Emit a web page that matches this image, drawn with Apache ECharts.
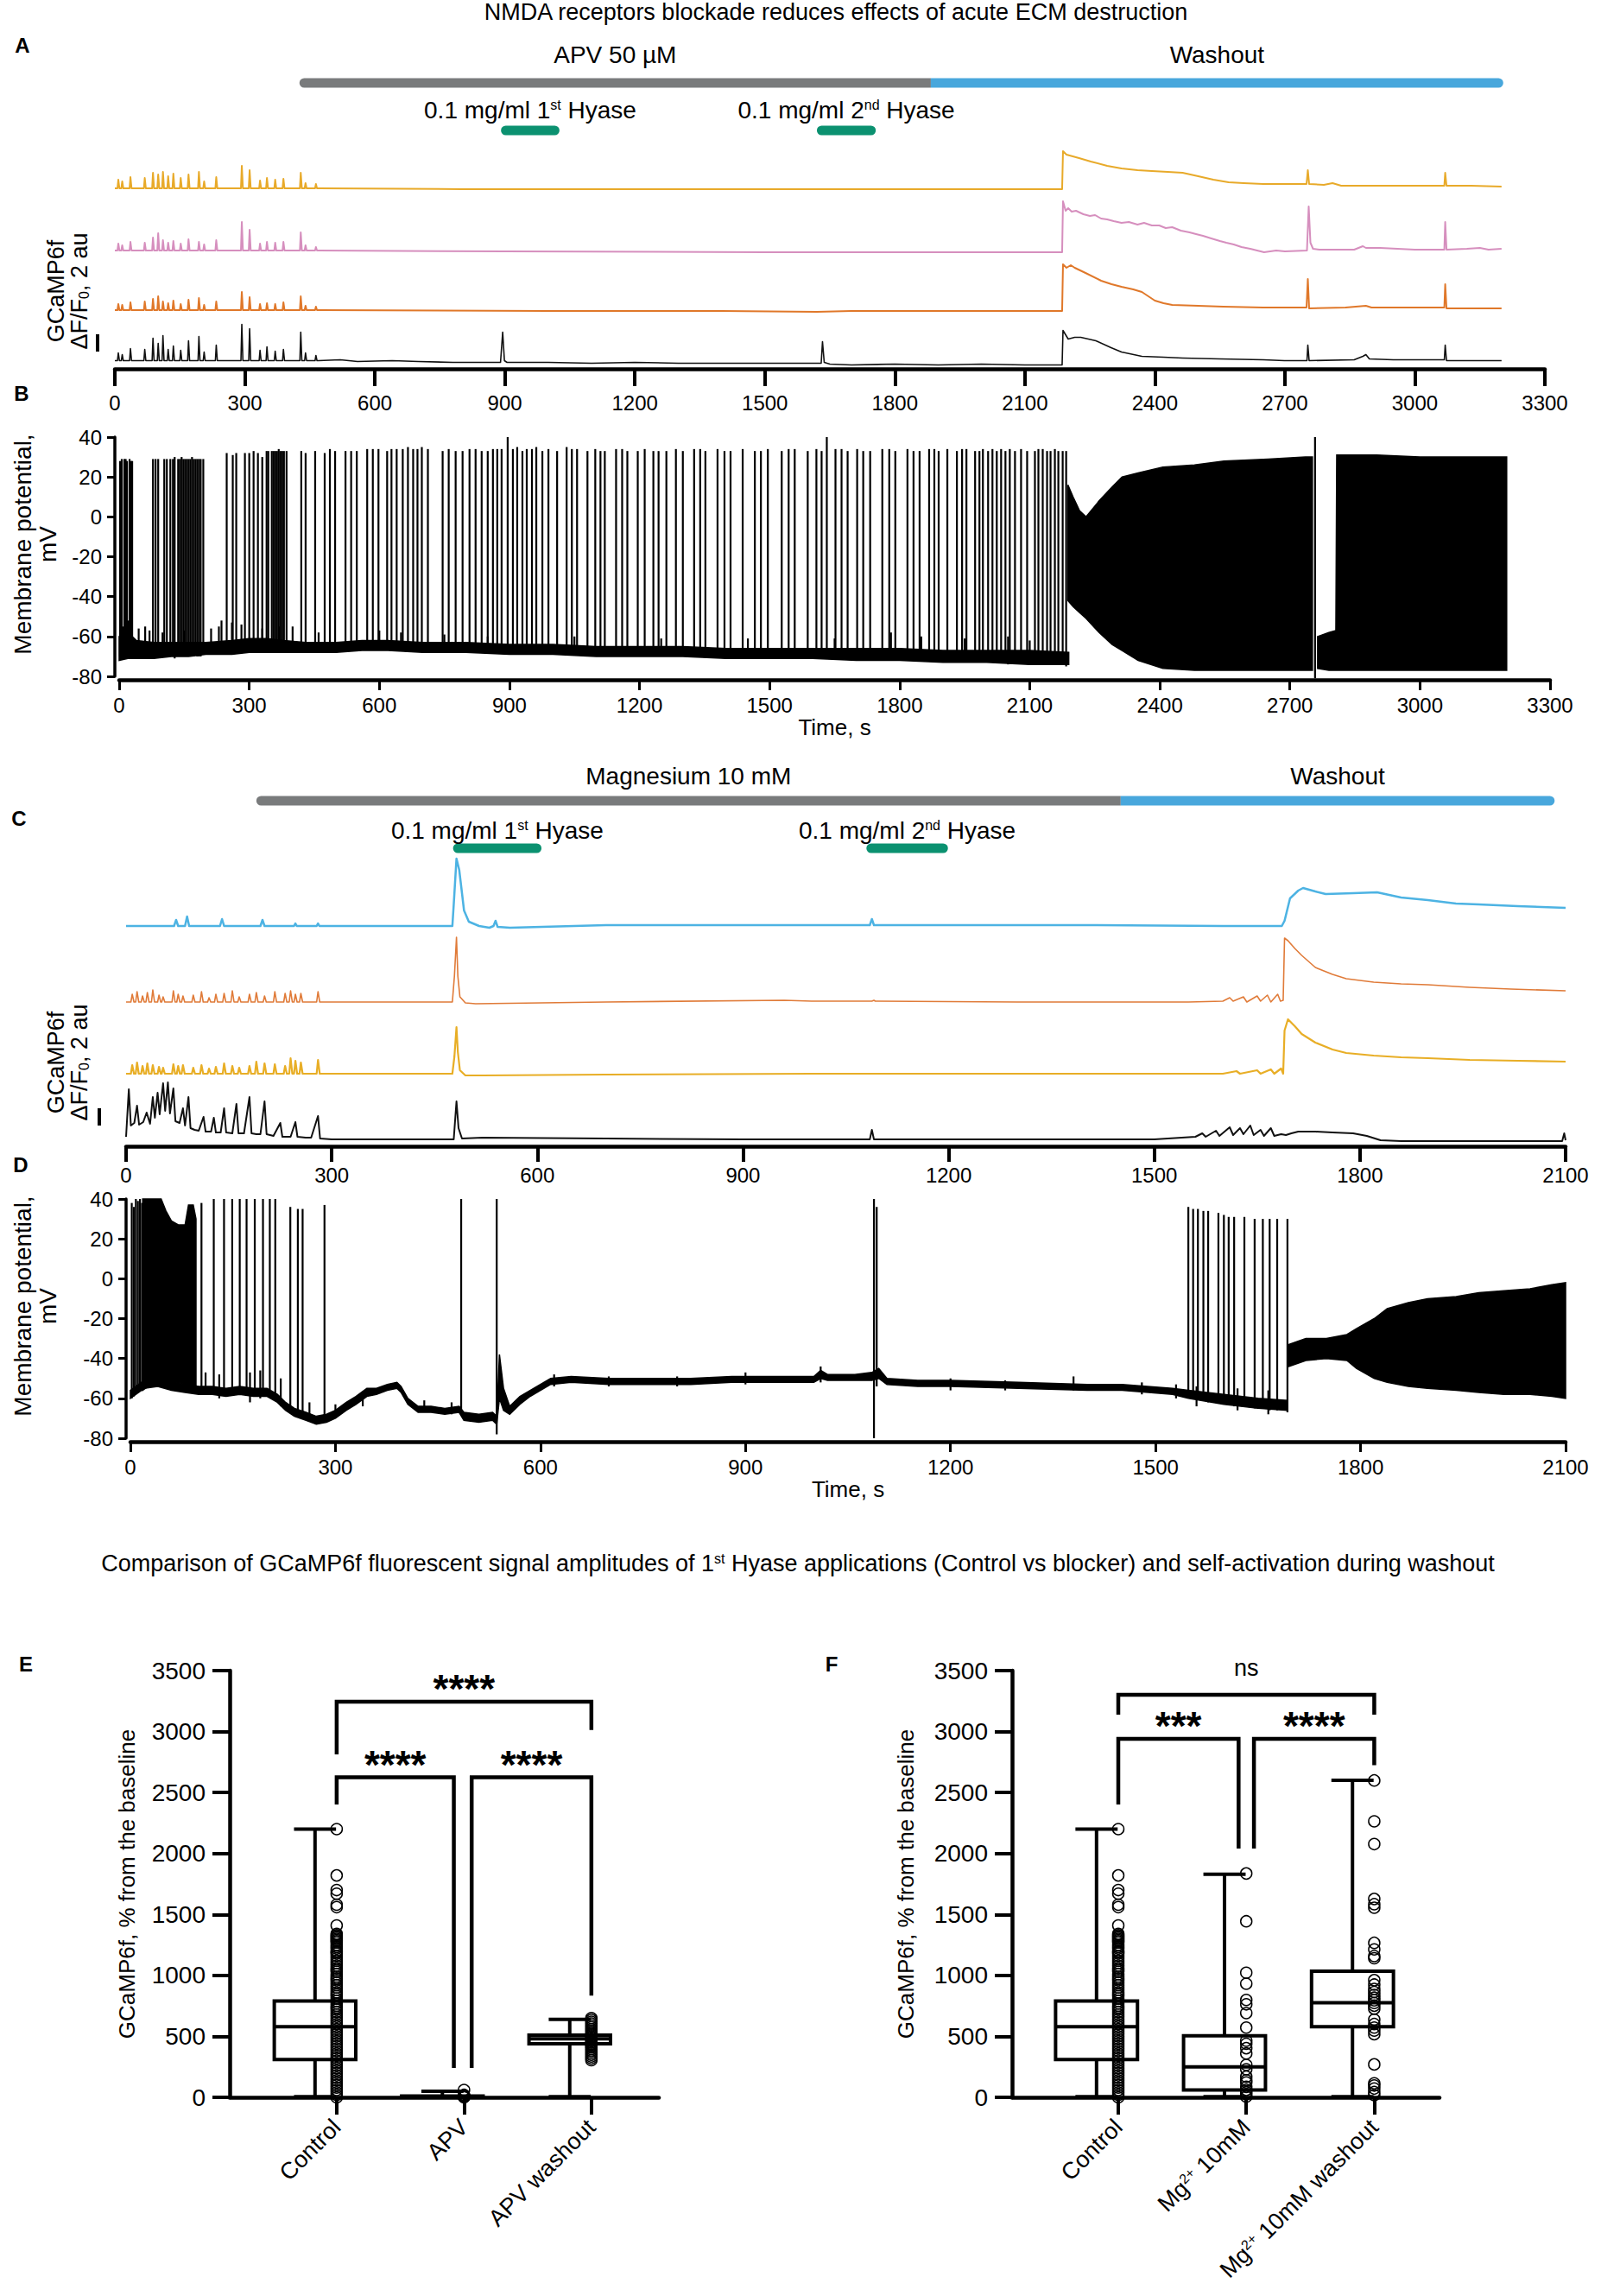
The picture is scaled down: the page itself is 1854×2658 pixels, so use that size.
<!DOCTYPE html>
<html>
<head>
<meta charset="UTF-8">
<title>NMDA receptors blockade reduces effects of acute ECM destruction</title>
<script src="https://cdn.jsdelivr.net/npm/echarts@6.0.0/dist/echarts.min.js"></script>
<style>
body { margin: 0; background: #fff; }
#main { width: 1854px; height: 2658px; }
</style>
</head>
<body>
<div id="main"></div>
<script>
// ---------- panel A : GCaMP6f traces, APV (au, relative to each trace baseline) ----------
var aPhaseStart = [426, 1883];
var aPhaseEnd = [1883, 3204];
var aPhaseName = ['APV 50 µM', 'Washout'];
var aHyaseStart = [891, 1620];
var aHyaseEnd = [1026, 1756];
var aHyaseName = ['0.1 mg/ml 1{sup|st} Hyase', '0.1 mg/ml 2{sup|nd} Hyase'];

var aEarlyT = [8, 17, 36, 69, 88, 100, 111, 123, 135, 152, 170, 194, 206, 234, 293, 311, 335, 351, 370, 389, 429, 440, 464];
var aYellowAmp = [1.0, 0.8, 1.3, 1.2, 1.8, 1.6, 1.9, 1.4, 1.7, 1.2, 1.6, 1.9, 0.8, 1.3, 2.6, 2.1, 0.9, 1.2, 1.0, 1.1, 1.8, 0.6, 0.5];
var aPinkAmp = [0.8, 0.6, 1.0, 0.9, 1.5, 2.0, 1.2, 0.9, 1.1, 0.8, 1.3, 1.0, 0.7, 1.2, 3.3, 2.4, 0.8, 1.0, 0.9, 1.0, 2.1, 0.6, 0.4];
var aOrangeAmp = [0.7, 0.6, 0.9, 1.0, 1.3, 1.6, 1.0, 0.8, 1.1, 0.7, 1.2, 1.4, 0.6, 1.0, 2.1, 1.5, 0.7, 0.8, 0.7, 0.9, 1.6, 0.5, 0.4];
var aBlackAmp = [0.9, 0.7, 1.4, 1.3, 2.6, 2.0, 2.9, 1.3, 1.7, 1.2, 2.3, 2.8, 1.0, 1.8, 4.2, 3.7, 1.2, 1.6, 1.1, 1.3, 3.3, 0.9, 0.6];

var aYellowLate = [[470,0],[800,-0.1],[1300,-0.1],[1800,-0.1],[2186,-0.1],[2188,4.3],[2196,3.9],[2225,3.5],[2252,3.1],[2290,2.6],[2323,2.3],[2360,2.1],[2393,2.0],[2430,1.9],[2464,1.8],[2500,1.4],[2535,1.0],[2570,0.7],[2605,0.6],[2650,0.5],[2699,0.5],[2750,0.5],[2753,2.1],[2756,0.5],[2790,0.4],[2810,0.6],[2830,0.3],[2900,0.3],[3000,0.3],[3068,0.3],[3070,1.8],[3073,0.3],[3130,0.3],[3200,0.2]];
var aPinkLate = [[470,0],[900,-0.1],[1500,-0.2],[2186,-0.2],[2188,5.7],[2194,4.6],[2200,4.9],[2208,4.5],[2218,4.6],[2235,4.2],[2250,4.0],[2262,4.1],[2276,3.7],[2290,3.6],[2305,3.4],[2323,3.2],[2340,3.3],[2360,3.0],[2375,3.2],[2393,2.9],[2410,2.9],[2425,2.6],[2440,2.7],[2460,2.3],[2480,2.1],[2495,1.9],[2511,1.7],[2530,1.4],[2550,1.1],[2565,0.9],[2582,0.7],[2600,0.4],[2620,0.2],[2652,-0.2],[2680,0],[2700,-0.1],[2751,0],[2755,5.1],[2759,0.9],[2765,0.2],[2780,0.1],[2860,0.1],[2880,0.5],[2887,0.3],[2920,0.3],[2960,0.2],[3000,0.1],[3068,0.1],[3070,3.3],[3073,0.1],[3120,0.2],[3150,0.3],[3170,0.1],[3200,0.2]];
var aOrangeLate = [[470,0],[1000,-0.1],[1400,-0.1],[1620,-0.2],[1700,-0.1],[2186,-0.1],[2188,5.3],[2196,4.9],[2206,5.2],[2215,4.9],[2240,4.3],[2276,3.4],[2300,3.0],[2323,2.7],[2350,2.4],[2370,2.1],[2385,1.6],[2400,1.1],[2420,0.8],[2440,0.6],[2500,0.5],[2558,0.4],[2650,0.3],[2750,0.3],[2753,3.6],[2756,0.2],[2840,0.3],[2887,0.5],[2900,0.3],[3068,0.3],[3070,3.0],[3073,0.2],[3200,0.2]];
var aBlackLate = [[470,0],[520,0.1],[560,-0.1],[640,0],[700,-0.1],[780,-0.2],[890,-0.2],[895,3.3],[899,0],[905,-0.2],[1000,-0.2],[1100,-0.3],[1200,-0.2],[1300,-0.3],[1400,-0.3],[1500,-0.3],[1630,-0.3],[1633,2.2],[1637,-0.2],[1650,-0.4],[1700,-0.5],[1800,-0.4],[1900,-0.5],[2000,-0.4],[2100,-0.5],[2186,-0.5],[2188,3.5],[2200,2.5],[2215,2.7],[2229,2.7],[2264,2.3],[2299,1.5],[2323,1.0],[2370,0.5],[2420,0.4],[2464,0.3],[2550,0.2],[2650,0.1],[2699,0],[2751,0],[2753,1.8],[2756,0],[2860,0.1],[2880,0.5],[2887,0.7],[2895,0.2],[2950,0.1],[3000,0.1],[3068,0.1],[3070,1.8],[3073,0],[3200,0]];

// ---------- panel B : membrane potential, APV (mV) ----------
// spikes: [time, bottom, top]
var bSpikes = [
  [2,-70,28],[6,-70,29],[12,-68,29],[15,-69,29],[18,-71,28],[24,-69,29],[27,-70,28],[30,-70,28],
  [78,-70,29],[84,-70,29],[90,-70,29],[104,-69,29],[110,-70,29],[118,-70,29],[124,-70,29],[128,-71,30],[136,-69,29],[140,-70,29],[144,-70,30],[148,-70,29],[152,-70,29],[156,-70,29],[160,-68,29],[164,-70,29],[168,-70,30],[172,-70,29],[176,-69,29],[180,-70,29],[184,-70,29],[188,-70,29],[194,-69,29],
  [248,-69,32],[262,-68,31],[270,-68,32],[290,-68,32],[300,-68,32],[310,-67,33],[320,-67,32],[330,-68,30],[340,-67,33],[344,-67,33],[352,-66,33],[356,-66,33],[360,-67,33],[364,-67,33],[368,-66,34],[372,-66,33],[376,-67,33],[380,-67,33],[386,-67,33],
  [420,-67,33],[430,-67,32],[452,-67,33],[474,-68,32],[486,-67,34],[498,-67,33],[522,-67,33],[535,-67,33],[548,-66,33],[572,-66,34],[585,-66,34],[598,-67,34],[618,-66,33],[628,-66,34],[640,-66,34],[654,-66,34],[666,-66,35],[678,-66,34],[688,-66,34],[698,-66,35],[712,-66,34],
  [746,-66,33],[760,-66,34],[776,-67,33],[792,-67,33],[808,-67,34],[822,-67,34],[836,-67,33],[850,-67,33],[862,-67,34],[872,-67,34],[882,-67,34],[896,-67,40],[908,-67,34],[918,-67,35],[930,-67,33],[940,-67,34],[952,-67,34],[962,-67,35],[976,-67,33],[990,-67,34],[1010,-67,33],[1032,-68,35],[1044,-68,34],[1056,-68,34],[1080,-68,33],[1098,-68,34],[1110,-68,33],[1120,-68,33],[1146,-68,34],[1160,-68,34],[1172,-68,33],[1196,-68,33],[1212,-68,34],[1232,-68,33],[1244,-69,33],[1262,-69,33],[1284,-69,34],[1300,-69,33],[1326,-69,34],[1340,-69,34],[1352,-69,33],[1380,-69,34],[1396,-69,33],[1410,-69,33],[1438,-69,34],[1466,-70,33],[1480,-70,33],[1496,-70,34],[1528,-70,33],[1544,-70,34],[1558,-70,34],[1588,-70,33],[1608,-70,34],[1620,-70,33],[1632,-70,40],[1652,-70,34],[1666,-70,34],[1680,-70,33],[1702,-70,34],[1716,-71,33],[1732,-71,33],[1760,-71,34],[1776,-71,34],[1790,-71,33],[1818,-71,34],[1832,-71,33],[1846,-71,33],[1868,-71,34],[1880,-71,34],[1890,-72,33],[1910,-72,34],[1932,-72,33],[1944,-72,34],[1954,-72,34],[1974,-72,33],[1984,-72,33],[1992,-72,34],[2004,-72,33],[2014,-73,34],[2024,-72,33],[2034,-73,34],[2044,-72,33],[2054,-73,34],[2066,-73,33],[2080,-73,34],[2094,-73,33],[2112,-73,33],[2120,-73,34],[2130,-74,34],[2140,-74,33],[2148,-74,33],[2158,-74,34],[2166,-74,33],[2176,-74,33],[2184,-75,33],
  [10,-71,-55],[22,-70,-52],[45,-71,-56],[60,-70,-55],[70,-71,-57],[100,-70,-58],[150,-70,-57],[212,-68,-56],[230,-69,-55],[236,-68,-52],[260,-69,-53],[282,-67,-54],[330,-68,-56],[370,-68,-55],[400,-67,-55],[460,-68,-58],[600,-67,-57],[650,-67,-58],[750,-68,-59],[850,-68,-60],[1050,-69,-60],[1250,-70,-61],[1450,-71,-61],[1650,-71,-61],[1780,-72,-58],[1850,-72,-60],[1950,-73,-61],[2050,-74,-60],[2100,-74,-62],
  [2758,-81,40]
];
// bands: [time, lower, upper]
var bBase = [[0,-72,-60],[20,-71,-58],[40,-71,-62],[80,-71,-63],[120,-70,-63],[160,-70,-63],[200,-69,-63],[260,-69,-62],[300,-68,-61],[340,-68,-61],[380,-68,-62],[430,-68,-63],[500,-68,-63],[560,-67,-62],[620,-67,-62],[700,-68,-63],[800,-68,-63],[900,-69,-64],[1000,-69,-64],[1100,-70,-65],[1200,-70,-65],[1300,-70,-65],[1400,-71,-66],[1500,-71,-66],[1600,-71,-66],[1700,-72,-66],[1800,-72,-66],[1900,-73,-67],[2000,-73,-67],[2100,-74,-67],[2190,-74,-68]];
var bOsc1 = [[2188,-42,16],[2200,-45,10],[2215,-48,3],[2230,-51,0],[2260,-58,8],[2290,-64,15],[2313,-67,20],[2350,-72,22],[2407,-76,25],[2480,-77,26],[2548,-77,28],[2650,-77,29],[2736,-77,30],[2752,-77,30]];
var bOsc2 = [[2764,-76,-60],[2790,-77,-58],[2806,-77,-57],[2808,-77,31],[2900,-77,31],[3000,-77,30],[3100,-77,30],[3200,-77,30]];

// ---------- panel C : GCaMP6f traces, Magnesium ----------
var cPhaseStart = [190, 1451];
var cPhaseEnd = [1451, 2084];
var cPhaseName = ['Magnesium 10 mM', 'Washout'];
var cHyaseStart = [477, 1080];
var cHyaseEnd = [606, 1199];
var cHyaseName = ['0.1 mg/ml 1{sup|st} Hyase', '0.1 mg/ml 2{sup|nd} Hyase'];

var cEarlyT = [9, 16, 24, 31, 39, 48, 54, 69, 76, 83, 98, 110, 121, 131, 143, 155, 165, 180, 190, 202, 217, 232, 240, 247, 255, 280];
var cOrangeAmp = [0.9, 1.2, 0.7, 1.1, 1.4, 0.8, 0.6, 1.3, 0.9, 0.7, 0.8, 1.2, 0.5, 0.9, 1.0, 1.3, 0.6, 0.9, 1.1, 0.7, 1.2, 1.0, 1.3, 0.9, 1.0, 1.2];
var cYellowAmp = [1.0, 1.3, 0.9, 1.2, 1.0, 0.8, 0.7, 1.1, 0.9, 1.0, 0.7, 1.0, 0.6, 0.8, 1.2, 0.9, 0.7, 0.9, 1.4, 1.2, 1.1, 0.9, 1.8, 1.5, 1.3, 1.6];

var cBlue = [[0,0],[70,0],[73,0.7],[76,0],[86,0],[89,1.1],[92,0],[137,0],[140,0.8],[143,0],[196,0],[199,0.7],[202,0],[245,0],[247,0.3],[249,0],[278,0],[280,0.3],[282,0],[476,0],[478,2.5],[482,7.8],[486,6.5],[489,4.5],[493,1.8],[500,0.5],[515,0],[530,-0.2],[536,0],[539,0.6],[542,-0.1],[560,-0.2],[700,0.1],[900,0.1],[1085,0.1],[1088,0.8],[1091,0.1],[1200,0.1],[1400,0.1],[1600,0],[1686,0],[1690,0.6],[1698,3.2],[1710,4.1],[1717,4.4],[1735,4.0],[1750,3.7],[1790,3.8],[1825,3.9],[1860,3.3],[1899,3.0],[1940,2.6],[1973,2.5],[2030,2.3],[2100,2.1]];
var cOrangeLate = [[285,0],[476,0],[479,3],[482,7.5],[484,3],[487,0.6],[495,-0.1],[510,-0.2],[700,0],[960,0.2],[1000,0.1],[1088,0.1],[1091,0.2],[1093,0.1],[1300,0],[1550,0],[1600,0.1],[1610,0.5],[1615,0.1],[1630,0.6],[1635,0],[1650,0.7],[1655,0.1],[1665,0.8],[1670,0],[1680,0.9],[1684,0.1],[1688,0.2],[1690,7.4],[1695,7.1],[1705,6.2],[1715,5.4],[1735,4.0],[1760,3.2],[1780,2.7],[1820,2.3],[1860,2.1],[1899,2.0],[1960,1.7],[2020,1.5],[2100,1.3]];
var cYellowLate = [[285,0],[476,0],[479,2],[482,5.4],[484,2.5],[487,0.4],[495,-0.2],[520,-0.2],[700,-0.1],[1000,0],[1300,0],[1600,0],[1620,0.3],[1625,0],[1650,0.4],[1655,0],[1670,0.5],[1675,0],[1685,0.6],[1688,0],[1690,5.0],[1695,6.3],[1705,5.5],[1715,4.6],[1735,3.6],[1760,2.8],[1780,2.4],[1820,2.1],[1860,1.9],[1899,1.8],[1960,1.6],[2030,1.5],[2100,1.4]];
var cBlack = [[0,0.2],[4,5.7],[7,1.5],[12,1.8],[16,3.8],[19,1.6],[25,1.9],[30,3.0],[35,1.7],[39,4.8],[42,2.4],[46,5.3],[49,2.8],[54,6.4],[57,3.2],[61,6.5],[64,2.9],[69,5.8],[72,2.0],[78,1.8],[83,3.5],[86,1.5],[91,4.8],[94,1.2],[100,1.0],[106,0.9],[113,2.5],[116,0.8],[124,0.8],[128,2.4],[131,0.7],[138,0.7],[143,3.5],[146,0.7],[155,0.6],[161,4.0],[164,0.6],[172,0.6],[180,4.8],[183,0.6],[190,0.5],[196,0.5],[202,4.3],[205,0.5],[215,0.3],[225,1.8],[228,0.2],[240,0.2],[247,1.9],[250,0.2],[262,0.1],[270,0.1],[280,2.6],[283,0],[300,-0.1],[400,-0.1],[478,-0.1],[482,4.3],[485,1.2],[490,0],[520,0.1],[700,0],[900,-0.1],[1085,-0.1],[1088,1.0],[1091,-0.1],[1300,-0.1],[1500,-0.1],[1560,0.2],[1570,0.6],[1575,0.2],[1590,0.9],[1595,0.3],[1610,1.3],[1615,0.4],[1625,1.2],[1630,0.5],[1640,1.5],[1645,0.4],[1655,1.0],[1660,0.3],[1670,1.2],[1675,0.3],[1685,0.5],[1692,0.4],[1700,0.6],[1710,0.8],[1735,0.8],[1760,0.7],[1790,0.6],[1810,0.3],[1830,-0.2],[1860,-0.3],[1950,-0.3],[2050,-0.3],[2095,-0.3],[2098,0.6],[2100,-0.2]];

// ---------- panel D : membrane potential, Magnesium (mV) ----------
var dSpikes = [
  [2,-60,38],[5,-59,36],[8,-57,40],[11,-56,39],[14,-55,40],[17,-55,38],[20,-54,40],
  [104,-55,38],[122,-56,40],[137,-57,40],[149,-56,40],[160,-58,40],[170,-57,40],[182,-56,40],[194,-57,40],[204,-58,40],[212,-60,40],[234,-64,36],[245,-66,35],[252,-67,35],[284,-72,37],
  [484,-66,40],[536,-78,40],[1088,-80,40],[1092,-54,36],
  [1548,-58,36],[1555,-60,35],[1562,-59,35],[1570,-61,34],[1577,-62,34],[1592,-62,33],[1600,-63,32],[1607,-63,31],[1615,-64,31],[1630,-64,31],[1645,-65,30],[1657,-65,30],[1667,-66,30],[1678,-66,30],[1693,-67,30],
  [110,-58,-47],[130,-60,-48],[175,-62,-47],[190,-60,-46],[220,-64,-50],[262,-70,-62],[300,-70,-63],[340,-64,-57],[430,-67,-61],[470,-68,-62],[620,-54,-48],[700,-54,-49],[800,-54,-49],[900,-53,-47],[1010,-52,-44],[1200,-56,-50],[1280,-56,-51],[1380,-56,-49],[1480,-58,-52],[1530,-60,-53],[1560,-64,-54],[1620,-66,-55],[1665,-68,-56]
];
var dBurst = [[18,-56,40],[30,-53,40],[45,-52,40],[52,-52,34],[60,-53,29],[70,-52,27],[80,-53,27],[85,-54,37],[92,-55,37],[96,-56,30]];
var dBase = [[0,-60,-56],[20,-55,-51],[40,-54,-50],[60,-56,-52],[80,-57,-53],[100,-58,-54],[120,-58,-54],[140,-59,-55],[160,-58,-54],[180,-59,-55],[200,-59,-55],[215,-62,-58],[227,-66,-62],[240,-69,-65],[257,-71,-67],[272,-73,-69],[287,-72,-68],[300,-70,-66],[316,-66,-62],[330,-63,-59],[346,-59,-55],[360,-58,-55],[376,-56,-53],[390,-55,-52],[396,-57,-54],[406,-63,-60],[421,-67,-64],[440,-67,-64],[460,-68,-65],[481,-67,-64],[488,-71,-67],[510,-72,-68],[530,-71,-67],[536,-73,-69],[540,-60,-38],[546,-66,-55],[555,-68,-64],[570,-63,-59],[585,-59,-56],[600,-56,-53],[615,-53,-50],[645,-52,-49],[700,-53,-50],[760,-53,-50],[820,-53,-50],[880,-52,-49],[940,-52,-49],[1000,-52,-49],[1010,-50,-46],[1020,-51,-48],[1060,-51,-48],[1085,-51,-47],[1095,-50,-45],[1107,-53,-50],[1152,-54,-51],[1200,-54,-51],[1300,-55,-52],[1400,-56,-53],[1451,-56,-53],[1525,-58,-55],[1548,-60,-56],[1600,-63,-58],[1650,-65,-60],[1693,-66,-61]];
var dOsc = [[1695,-44,-33],[1720,-41,-30],[1750,-40,-30],[1780,-41,-28],[1794,-45,-25],[1820,-50,-20],[1839,-52,-15],[1870,-54,-12],[1898,-55,-10],[1940,-56,-9],[1973,-57,-7],[2010,-58,-6],[2048,-58,-5],[2080,-59,-3],[2100,-60,-2]];

// ---------- panels E / F : amplitudes, % from the baseline ----------
var eCats = ['Control', 'APV', 'APV washout'];
var fCats = ['Control', 'Mg{sup|2+} 10mM', 'Mg{sup|2+} 10mM washout'];
// [category, min, q1, median, q3, max]
var eBoxes = [[0, 5, 310, 580, 790, 2200], [1, 0, 2, 5, 10, 50], [2, 5, 440, 480, 510, 640]];
var fBoxes = [[0, 5, 310, 580, 790, 2200], [1, 5, 60, 250, 505, 1830], [2, 5, 580, 775, 1035, 2600]];
var controlPts = [2200,1820,1700,1670,1580,1560,1410,1340,1330,1320,1310,1300,1290,1280,1270,1250,1235,1220,1200,1190,1180,1160,1140,1120,1100,1080,1060,1045,1030,1010,990,975,960,940,920,900,880,860,845,830,810,790,770,750,735,720,700,680,660,640,620,600,580,560,540,520,500,480,460,440,420,400,380,360,340,320,300,280,260,240,220,200,180,160,140,120,100,80,60,40,20,0];
var apvPts = [60, 20, 12, 8, 5, 3, 0];
var apvWashPts = [650,635,620,605,590,575,560,545,530,515,500,490,480,470,460,450,440,430,420,410,395,380,365,350,335,320,305];
var mgPts = [1836,1444,1022,932,799,763,691,572,464,439,403,360,266,230,169,140,122,86,61,43,25,5];
var mgWashPts = [2599,2264,2077,1627,1584,1555,1267,1213,1159,1141,961,925,889,864,839,817,796,774,752,727,637,601,572,547,518,270,115,97,72,43,18];
// [x from, x to, bracket top, left leg end, right leg end]
var eBrackets = [[0, 2, 3245, 2813, 3013], [0, 0.92, 2625, 2401, 241], [1.06, 2, 2625, 241, 835]];
var eBrLabels = ['****', '****', '****'];
var fBrackets = [[0, 2, 3301, 3139, 3139], [0, 0.94, 2941, 2401, 2041], [1.06, 2, 2941, 2041, 2725]];
var fBrLabels = ['ns', '***', '****'];

// ---------- helpers ----------
var FONT = '"Liberation Sans", Arial, Helvetica, sans-serif';
var RICH = {
  sup: { fontSize: 16, fontFamily: FONT, verticalAlign: 'top', fill: '#000', color: '#000' },
  sub: { fontSize: 16, fontFamily: FONT, verticalAlign: 'bottom', fill: '#000', color: '#000' }
};
var BOX_SHIFT = -0.17, BOX_W = 0.64, CAP_W = 0.33;
var plain = function (v) { return String(v); };

function spikeTrain(times, amps, tail) {
  var pts = [[0, 0]];
  times.forEach(function (t, i) { pts.push([t - 2, 0], [t, amps[i]], [t + 2.5, 0]); });
  return pts.concat(tail);
}

function trace(axis, pts, offset, color, width) {
  return {
    type: 'line', xAxisIndex: axis, yAxisIndex: axis, symbol: 'none', silent: true, clip: false,
    data: pts.map(function (p) { return [p[0], p[1] + offset]; }),
    lineStyle: { color: color, width: width, join: 'round' }
  };
}

function band(axis, pts, color) {
  return {
    type: 'custom', xAxisIndex: axis, yAxisIndex: axis, data: pts, clip: false, silent: true,
    renderItem: function (params, api) {
      if (params.dataIndex !== 0) return;
      var top = pts.map(function (p) { return api.coord([p[0], p[2]]); });
      var bot = pts.map(function (p) { return api.coord([p[0], p[1]]); }).reverse();
      return { type: 'polygon', shape: { points: top.concat(bot) }, style: { fill: color, stroke: color, lineWidth: 1.5 } };
    }
  };
}

function spikes(axis, rows, width) {
  return {
    type: 'custom', xAxisIndex: axis, yAxisIndex: axis, data: rows, clip: false, silent: true,
    renderItem: function (params, api) {
      var a = api.coord([api.value(0), api.value(1)]);
      var b = api.coord([api.value(0), api.value(2)]);
      return { type: 'line', shape: { x1: a[0], y1: a[1], x2: b[0], y2: b[1] }, style: { stroke: '#000', lineWidth: width } };
    }
  };
}

function phases(axis, starts, ends, names, colors, barY, labelY, pill) {
  var rows = starts.map(function (s, i) { return [s, ends[i]]; });
  return {
    type: 'custom', xAxisIndex: axis, yAxisIndex: axis, data: rows, clip: false, silent: true,
    renderItem: function (params, api) {
      var i = params.dataIndex;
      var x0 = api.coord([api.value(0), 0])[0];
      var x1 = api.coord([api.value(1), 0])[0];
      var r = 5.5;
      var rad = pill ? r : (i === 0 ? [r, 0, 0, r] : [0, r, r, 0]);
      return {
        type: 'group', children: [
          { type: 'rect', shape: { x: x0, y: barY - r, width: x1 - x0, height: 2 * r, r: rad }, style: { fill: colors[i] } },
          { type: 'text', style: { text: names[i], x: (x0 + x1) / 2, y: labelY, fill: '#000', fontSize: 28, fontFamily: FONT, align: 'center', verticalAlign: 'middle', rich: RICH } }
        ]
      };
    }
  };
}

function boxes(axis, rows) {
  return {
    type: 'custom', xAxisIndex: axis, yAxisIndex: axis, data: rows, clip: false, silent: true, z: 3,
    renderItem: function (params, api) {
      var x = api.value(0) + BOX_SHIFT;
      var c = function (dx, v) { return api.coord([x + dx, v]); };
      var mn = c(0, api.value(1)), q1 = c(0, api.value(2)), md = c(0, api.value(3)), q3 = c(0, api.value(4)), mx = c(0, api.value(5));
      var l = c(-BOX_W / 2, 0)[0], r = c(BOX_W / 2, 0)[0];
      var cl = c(-CAP_W / 2, 0)[0], cr = c(CAP_W / 2, 0)[0];
      var st = { stroke: '#000', lineWidth: 4, fill: 'none' };
      return {
        type: 'group', children: [
          { type: 'line', shape: { x1: mn[0], y1: mn[1], x2: q1[0], y2: q1[1] }, style: st },
          { type: 'line', shape: { x1: q3[0], y1: q3[1], x2: mx[0], y2: mx[1] }, style: st },
          { type: 'line', shape: { x1: cl, y1: mn[1], x2: cr, y2: mn[1] }, style: st },
          { type: 'line', shape: { x1: cl, y1: mx[1], x2: cr, y2: mx[1] }, style: st },
          { type: 'rect', shape: { x: l, y: q3[1], width: r - l, height: q1[1] - q3[1] }, style: st },
          { type: 'line', shape: { x1: l, y1: md[1], x2: r, y2: md[1] }, style: st }
        ]
      };
    }
  };
}

function dots(axis, lists) {
  var data = [];
  lists.forEach(function (arr, i) { arr.forEach(function (v) { data.push([i, v]); }); });
  return {
    type: 'scatter', xAxisIndex: axis, yAxisIndex: axis, data: data, symbol: 'circle', symbolSize: 13, silent: true, z: 4,
    itemStyle: { color: 'rgba(255,255,255,0)', borderColor: '#000', borderWidth: 1.5, opacity: 1 }
  };
}

function brackets(axis, rows, labels) {
  return {
    type: 'custom', xAxisIndex: axis, yAxisIndex: axis, data: rows, clip: false, silent: true, z: 5,
    renderItem: function (params, api) {
      var yt = api.value(2);
      var a = api.coord([api.value(0), api.value(3)]), b = api.coord([api.value(0), yt]);
      var c = api.coord([api.value(1), yt]), d = api.coord([api.value(1), api.value(4)]);
      var lab = labels[params.dataIndex];
      var ns = lab === 'ns';
      return {
        type: 'group', children: [
          { type: 'polyline', shape: { points: [a, b, c, d] }, style: { stroke: '#000', lineWidth: 4.5, fill: 'none', lineJoin: 'miter' } },
          { type: 'text', style: { text: lab, x: (b[0] + c[0]) / 2, y: b[1] - (ns ? 31 : 15), fill: '#000', fontSize: ns ? 27 : 46, fontWeight: ns ? 'normal' : 'bold', fontFamily: FONT, align: 'center', verticalAlign: 'middle' } }
        ]
      };
    }
  };
}

function timeAxis(grid, max, line, tick, margin, name, nameGap) {
  return {
    type: 'value', gridIndex: grid, min: 0, max: max, interval: 300, offset: line.offset || 0,
    name: name || '', nameLocation: 'middle', nameGap: nameGap || 0,
    nameTextStyle: { color: '#000', fontSize: 26, fontFamily: FONT },
    axisLine: { show: true, onZero: false, lineStyle: { color: '#000', width: line.width } },
    axisTick: { show: true, length: tick.length, lineStyle: { color: '#000', width: tick.width } },
    axisLabel: { color: '#000', fontSize: 24, fontFamily: FONT, margin: margin, formatter: plain },
    splitLine: { show: false }
  };
}

function mvAxis(grid) {
  return {
    type: 'value', gridIndex: grid, min: -80, max: 40, interval: 20, offset: 5,
    axisLine: { show: true, onZero: false, lineStyle: { color: '#000', width: 3.5 } },
    axisTick: { show: true, length: 9, lineStyle: { color: '#000', width: 3 } },
    axisLabel: { color: '#000', fontSize: 24, fontFamily: FONT, margin: 15, formatter: plain },
    splitLine: { show: false }
  };
}

function catAxis(grid, min, max, names) {
  return {
    type: 'value', gridIndex: grid, min: min, max: max,
    axisLine: { show: true, onZero: false, lineStyle: { color: '#000', width: 4.5 } },
    axisTick: { show: true, length: 20, customValues: [0, 1, 2], lineStyle: { color: '#000', width: 4 } },
    axisLabel: {
      show: true, customValues: [0, 1, 2], rotate: 45, margin: 30, color: '#000', fontSize: 27, fontFamily: FONT,
      formatter: function (v) { return names[Math.round(v)]; },
      rich: { sup: { fontSize: 16, fontFamily: FONT, verticalAlign: 'top', color: '#000' } }
    },
    splitLine: { show: false }
  };
}

function pctAxis(grid, nameGap) {
  return {
    type: 'value', gridIndex: grid, min: 0, max: 3500, interval: 500,
    name: 'GCaMP6f, % from the baseline', nameLocation: 'middle', nameRotate: 90, nameGap: nameGap,
    nameTextStyle: { color: '#000', fontSize: 26, fontFamily: FONT },
    axisLine: { show: true, onZero: false, lineStyle: { color: '#000', width: 4.5 } },
    axisTick: { show: true, length: 20, lineStyle: { color: '#000', width: 4 } },
    axisLabel: { color: '#000', fontSize: 28, fontFamily: FONT, margin: 28, formatter: plain },
    splitLine: { show: false }
  };
}

function txt(x, y, text, size, extra) {
  var el = {
    type: 'text', x: x, y: y, silent: true,
    style: { text: text, fill: '#000', fontSize: size, fontFamily: FONT, align: 'center', verticalAlign: 'middle', rich: RICH }
  };
  if (extra) {
    if (extra.rotation) el.rotation = extra.rotation;
    if (extra.weight) el.style.fontWeight = extra.weight;
    if (extra.lineHeight) el.style.lineHeight = extra.lineHeight;
  }
  return el;
}

var GRAY = '#797b7c', BLUE = '#48a7dc', GREEN = '#0b9170';

var chart = echarts.init(document.getElementById('main'), null, { renderer: 'svg' });
chart.setOption({
  animation: false,
  backgroundColor: '#fff',
  grid: [
    { left: 133, top: 160, width: 1656, height: 267 },
    { left: 138, top: 506, width: 1657, height: 277 },
    { left: 146, top: 980, width: 1667, height: 347 },
    { left: 151, top: 1388, width: 1662, height: 277 },
    { left: 266, top: 1934, width: 497, height: 494 },
    { left: 1172, top: 1934, width: 495, height: 494 }
  ],
  xAxis: [
    timeAxis(0, 3300, { width: 4.5 }, { length: 20, width: 4 }, 27),
    timeAxis(1, 3300, { width: 4.5, offset: 4 }, { length: 12, width: 3 }, 17, 'Time, s', 42),
    timeAxis(2, 2100, { width: 4.5 }, { length: 18, width: 4 }, 21),
    timeAxis(3, 2100, { width: 4.5, offset: 4 }, { length: 12, width: 3 }, 17, 'Time, s', 38),
    catAxis(4, -0.84, 2.53, eCats),
    catAxis(5, -0.83, 2.51, fCats)
  ],
  yAxis: [
    { type: 'value', gridIndex: 0, min: 0, max: 26.7, show: false },
    mvAxis(1),
    { type: 'value', gridIndex: 2, min: 0, max: 34.7, show: false },
    mvAxis(3),
    pctAxis(4, 106),
    pctAxis(5, 110)
  ],
  graphic: [
    txt(968, 14, 'NMDA receptors blockade reduces effects of acute ECM destruction', 27),
    txt(26, 52, 'A', 24, { weight: 'bold' }),
    txt(25, 455, 'B', 24, { weight: 'bold' }),
    txt(22, 947, 'C', 24, { weight: 'bold' }),
    txt(24, 1348, 'D', 24, { weight: 'bold' }),
    txt(30, 1926, 'E', 24, { weight: 'bold' }),
    txt(963, 1926, 'F', 24, { weight: 'bold' }),
    txt(78, 337, 'GCaMP6f\nΔF/F{sub|0}, 2 au', 27, { rotation: Math.PI / 2, lineHeight: 27 }),
    { type: 'rect', shape: { x: 111, y: 387, width: 4, height: 20 }, style: { fill: '#000' }, silent: true },
    txt(78, 1230, 'GCaMP6f\nΔF/F{sub|0}, 2 au', 27, { rotation: Math.PI / 2, lineHeight: 27 }),
    { type: 'rect', shape: { x: 113, y: 1283, width: 4, height: 20 }, style: { fill: '#000' }, silent: true },
    txt(41, 630, 'Membrane potential,\nmV', 28, { rotation: Math.PI / 2, lineHeight: 29 }),
    txt(41, 1512, 'Membrane potential,\nmV', 28, { rotation: Math.PI / 2, lineHeight: 29 }),
    txt(924, 1810, 'Comparison of GCaMP6f fluorescent signal amplitudes of 1{sup|st} Hyase applications (Control vs blocker) and self-activation during washout', 27)
  ],
  series: [
    // A
    phases(0, aPhaseStart, aPhaseEnd, aPhaseName, [GRAY, BLUE], 96, 63, false),
    phases(0, aHyaseStart, aHyaseEnd, aHyaseName, [GREEN, GREEN], 151, 127, true),
    trace(0, spikeTrain(aEarlyT, aYellowAmp, aYellowLate), 20.9, '#e8aa2a', 2),
    trace(0, spikeTrain(aEarlyT, aPinkAmp, aPinkLate), 13.7, '#d68fbe', 2),
    trace(0, spikeTrain(aEarlyT, aOrangeAmp, aOrangeLate), 6.8, '#e0782a', 2),
    trace(0, spikeTrain(aEarlyT, aBlackAmp, aBlackLate), 0.95, '#111', 1.6),
    // B
    band(1, bBase, '#000'),
    spikes(1, bSpikes, 2.2),
    band(1, bOsc1, '#000'),
    band(1, bOsc2, '#000'),
    // C
    phases(2, cPhaseStart, cPhaseEnd, cPhaseName, [GRAY, BLUE], 927, 898, false),
    phases(2, cHyaseStart, cHyaseEnd, cHyaseName, [GREEN, GREEN], 982, 961, true),
    trace(2, cBlue, 25.5, '#4db3e3', 2.5),
    trace(2, spikeTrain(cEarlyT, cOrangeAmp, cOrangeLate), 16.7, '#e07b39', 1.6),
    trace(2, spikeTrain(cEarlyT, cYellowAmp, cYellowLate), 8.4, '#e8ae26', 2.2),
    trace(2, cBlack, 0.9, '#111', 2),
    // D
    band(3, dBase, '#000'),
    band(3, dBurst, '#000'),
    band(3, dOsc, '#000'),
    spikes(3, dSpikes, 2.2),
    // E
    boxes(4, eBoxes),
    dots(4, [controlPts, apvPts, apvWashPts]),
    brackets(4, eBrackets, eBrLabels),
    // F
    boxes(5, fBoxes),
    dots(5, [controlPts, mgPts, mgWashPts]),
    brackets(5, fBrackets, fBrLabels)
  ]
});
</script>
</body>
</html>
